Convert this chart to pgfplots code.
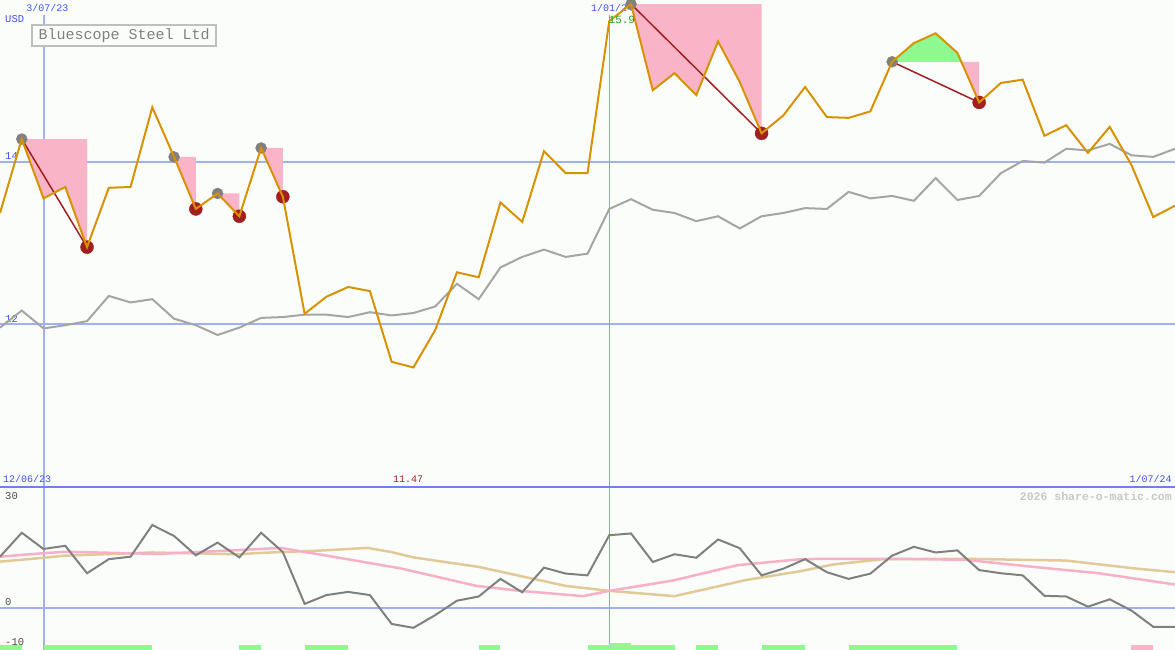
\documentclass[border=0pt]{standalone}
\usepackage{pgfplots}
\pgfplotsset{compat=1.18}
\usepackage{pgfplotstable}
\usepackage{fontspec}
\setmainfont{Liberation Mono}

\definecolor{bgc}{RGB}{251,253,251}
\definecolor{gridc}{RGB}{160,176,240}
\definecolor{thinc}{RGB}{140,160,245}
\definecolor{sepc}{RGB}{112,128,232}
\definecolor{labblue}{RGB}{64,80,240}
\definecolor{pricec}{RGB}{216,146,0}
\definecolor{relc}{RGB}{165,165,165}
\definecolor{oscc}{RGB}{128,128,128}
\definecolor{ddpink}{RGB}{250,180,200}
\definecolor{ddgreen}{RGB}{144,248,144}
\definecolor{ddred}{RGB}{160,32,32}
\definecolor{mapink}{RGB}{248,176,200}
\definecolor{matan}{RGB}{226,202,152}
\definecolor{labgreen}{RGB}{32,160,32}

% weekly closes (index 0 = 12/06/23), comparison line, oscillator
\pgfplotstableread{
i  price  rel    osc
0  13.37  11.96  14.5
1  14.28  12.17  21.3
2  13.55  11.95  16.7
3  13.69  11.99  17.6
4  12.95  12.04  9.8
5  13.68  12.35  13.8
6  13.69  12.27  14.5
7  14.67  12.31  23.5
8  14.06  12.07  20.4
9  13.42  11.99  14.9
10 13.61  11.87  18.5
11 13.33  11.96  14.3
12 14.17  12.08  21.3
13 13.57  12.09  15.8
14 12.13  12.12  1.1
15 12.34  12.12  3.6
16 12.46  12.09  4.5
17 12.41  12.15  3.6
18 11.54  12.11  -4.6
19 11.47  12.14  -5.7
20 11.93  12.22  -2.1
21 12.64  12.50  2.0
22 12.58  12.31  3.2
23 13.50  12.70  8.2
24 13.26  12.83  4.4
25 14.13  12.92  11.4
26 13.86  12.83  9.7
27 13.86  12.87  9.2
28 15.73  13.42  20.6
29 15.94  13.54  21.1
30 14.88  13.41  13.0
31 15.09  13.37  15.2
32 14.82  13.27  14.2
33 15.48  13.33  19.4
34 14.98  13.18  16.9
35 14.35  13.33  9.2
36 14.57  13.37  11.1
37 14.92  13.43  13.8
38 14.55  13.42  10.1
39 14.54  13.63  8.2
40 14.62  13.55  9.7
41 15.23  13.58  14.8
42 15.46  13.52  17.3
43 15.58  13.80  15.7
44 15.34  13.53  16.3
45 14.73  13.58  10.7
46 14.97  13.86  9.8
47 15.01  14.01  9.2
48 14.32  13.99  3.4
49 14.45  14.16  3.2
50 14.11  14.14  0.3
51 14.43  14.22  2.4
52 13.96  14.08  -0.8
53 13.32  14.06  -5.4
54 13.46  14.16  -5.4
}\datatable

\begin{document}
\begin{tikzpicture}[every node/.style={inner sep=0pt}]
\fill[bgc] (0,0) rectangle (1175pt,650pt);
\path[use as bounding box] (0,0) rectangle (1175pt,650pt);

% ---------------- price panel ----------------
\begin{axis}[
  at={(0,163pt)}, anchor=south west,
  width=1175pt, height=487pt, scale only axis,
  xmin=0, xmax=54, ymin=10, ymax=15.99,
  axis lines=none, clip marker paths=true,
]
  \draw[gridc, line width=2pt] (axis cs:0,14) -- (axis cs:54,14);
  \draw[gridc, line width=2pt] (axis cs:0,12) -- (axis cs:54,12);
  \draw[gridc, line width=2pt] (axis cs:2,10) -- (axis cs:2,15.80);
  \draw[thinc, line width=1.2pt] (axis cs:28,10) -- (axis cs:28,15.80);

  \node[anchor=center, text=labblue, font=\fontsize{10}{11}\selectfont] at (axis cs:2.18,15.89) {3/07/23};
  \node[anchor=center, text=labblue, font=\fontsize{10}{11}\selectfont] at (axis cs:28.13,15.89) {1/01/24};
  \node[anchor=west, text=labblue, font=\fontsize{10.5}{11}\selectfont] at (axis cs:0.23,15.76) {USD};
  \node[anchor=west, text=labblue, font=\fontsize{10.5}{11}\selectfont] at (axis cs:0.23,14.07) {14};
  \node[anchor=west, text=labblue, font=\fontsize{10.5}{11}\selectfont] at (axis cs:0.23,12.07) {12};
  \node[anchor=west, text=labblue, font=\fontsize{10}{11}\selectfont] at (axis cs:0.14,10.10) {12/06/23};
  \node[anchor=east, text=labblue, font=\fontsize{10}{11}\selectfont] at (axis cs:53.86,10.10) {1/07/24};
  \node[anchor=west, text=ddred, font=\fontsize{10}{11}\selectfont] at (axis cs:18.06,10.10) {11.47};
  \node[draw=black!25, line width=2pt, fill=bgc, minimum width=184pt, minimum height=21pt,
        text=black!50, font=\fontsize{15}{17}\selectfont] at (axis cs:5.70,15.55) {Bluescope Steel Ltd};

  % drawdown areas
  \addplot[fill=ddpink, draw=none] coordinates {(1,14.28) (2,13.55) (3,13.69) (4,12.95) (4,14.28)};
  \addplot[fill=ddpink, draw=none] coordinates {(8,14.06) (9,13.42) (9,14.06)};
  \addplot[fill=ddpink, draw=none] coordinates {(10,13.61) (11,13.33) (11,13.61)};
  \addplot[fill=ddpink, draw=none] coordinates {(12,14.17) (13,13.57) (13,14.17)};
  \addplot[fill=ddpink, draw=none] coordinates {(29,15.94) (30,14.88) (31,15.09) (32,14.82) (33,15.48) (34,14.98) (35,14.35) (35,15.94)};
  \addplot[fill=ddgreen, draw=none] coordinates {(41,15.23) (42,15.46) (43,15.58) (44,15.34) (44.18,15.23)};
  \addplot[fill=ddpink, draw=none] coordinates {(44.18,15.23) (45,14.73) (45,15.23)};

  \addplot[relc, line width=2pt] table[x=i, y=rel] {\datatable};

  \addplot[ddred, line width=1.5pt] coordinates {(1,14.28) (4,12.95)};
  \addplot[ddred, line width=1.5pt] coordinates {(29,15.94) (35,14.35)};
  \addplot[ddred, line width=1.5pt] coordinates {(41,15.23) (45,14.73)};

  \addplot[only marks, mark=*, mark size=5.5pt, mark options={draw=oscc, fill=oscc}]
    coordinates {(1,14.28) (8,14.06) (10,13.61) (12,14.17) (29,15.94) (41,15.23)};
  \addplot[only marks, mark=*, mark size=6.5pt, mark options={draw=ddred, fill=ddred}]
    coordinates {(4,12.95) (9,13.42) (11,13.33) (13,13.57) (35,14.35) (45,14.73)};

  \addplot[pricec, line width=2pt] table[x=i, y=price] {\datatable};

  \node[anchor=center, text=labgreen, font=\fontsize{11}{12}\selectfont] at (axis cs:28.58,15.74) {15.9};
\end{axis}

% ---------------- oscillator panel ----------------
\begin{axis}[
  at={(0,0)}, anchor=south west,
  width=1175pt, height=163pt, scale only axis,
  xmin=0, xmax=54, ymin=-12.0, ymax=34.3,
  axis lines=none, clip marker paths=true,
]
  \draw[gridc, line width=2pt] (axis cs:0,0) -- (axis cs:54,0);
  \draw[gridc, line width=2pt] (axis cs:2,-12) -- (axis cs:2,34.3);
  \draw[thinc, line width=1.2pt] (axis cs:28,-12) -- (axis cs:28,34.3);
  \draw[sepc, line width=2.5pt] (axis cs:0,34.3) -- (axis cs:54,34.3);

  \node[anchor=west, text=black!70, font=\fontsize{10.5}{11}\selectfont] at (axis cs:0.23,31.7) {30};
  \node[anchor=west, text=black!70, font=\fontsize{10.5}{11}\selectfont] at (axis cs:0.23,1.6) {0};
  \node[anchor=west, text=black!70, font=\fontsize{10.5}{11}\selectfont] at (axis cs:0.23,-9.7) {-10};
  \node[anchor=east, text=black!22, font=\bfseries\fontsize{11.5}{12}\selectfont] at (axis cs:53.86,31.7) {2026 share-o-matic.com};

  % moving averages of the oscillator
  \addplot[matan, line width=2.5pt] coordinates {
    (0,13.1) (2,14.2) (3,14.8) (7,15.7) (11,15.2) (12,15.6) (14.6,16.2) (16.9,17.0)
    (18,15.8) (19,14.3) (22,11.6) (26,6.2) (28,4.8) (31,3.3) (34.3,7.9) (36.8,10.4)
    (38.3,12.3) (40.6,13.8) (44.4,13.9) (49,13.4) (52.1,11.2) (54,10.1)};
  \addplot[mapink, line width=2.5pt] coordinates {
    (0,14.5) (2,15.5) (3,15.9) (7.3,15.3) (11,16.4) (12.9,17.0) (15.3,14.5) (18.4,11.2)
    (21.9,6.2) (23.9,4.8) (26.8,3.3) (28,4.8) (30.9,7.7) (33.9,12.1) (36.8,13.8)
    (38.1,13.9) (41.4,13.9) (44.4,13.6) (47.5,11.6) (50.5,9.8) (54,6.6)};
  \addplot[oscc, line width=2pt] table[x=i, y=osc] {\datatable};

  % signal bars along the bottom edge
  \addplot[fill=ddgreen, draw=none] coordinates {(0,-12) (1,-12) (1,-10.6) (0,-10.6)};
  \addplot[fill=ddgreen, draw=none] coordinates {(2,-12) (7,-12) (7,-10.6) (2,-10.6)};
  \addplot[fill=ddgreen, draw=none] coordinates {(11,-12) (12,-12) (12,-10.6) (11,-10.6)};
  \addplot[fill=ddgreen, draw=none] coordinates {(14,-12) (16,-12) (16,-10.6) (14,-10.6)};
  \addplot[fill=ddgreen, draw=none] coordinates {(22,-12) (23,-12) (23,-10.6) (22,-10.6)};
  \addplot[fill=ddgreen, draw=none] coordinates {(27,-12) (31,-12) (31,-10.6) (27,-10.6)};
  \addplot[fill=ddgreen, draw=none] coordinates {(28,-12) (29,-12) (29,-10.0) (28,-10.0)};
  \addplot[fill=ddgreen, draw=none] coordinates {(32,-12) (33,-12) (33,-10.6) (32,-10.6)};
  \addplot[fill=ddgreen, draw=none] coordinates {(35,-12) (37,-12) (37,-10.6) (35,-10.6)};
  \addplot[fill=ddgreen, draw=none] coordinates {(39,-12) (44,-12) (44,-10.6) (39,-10.6)};
  \addplot[fill=ddpink, draw=none] coordinates {(52,-12) (53,-12) (53,-10.6) (52,-10.6)};
\end{axis}
\end{tikzpicture}
\end{document}
